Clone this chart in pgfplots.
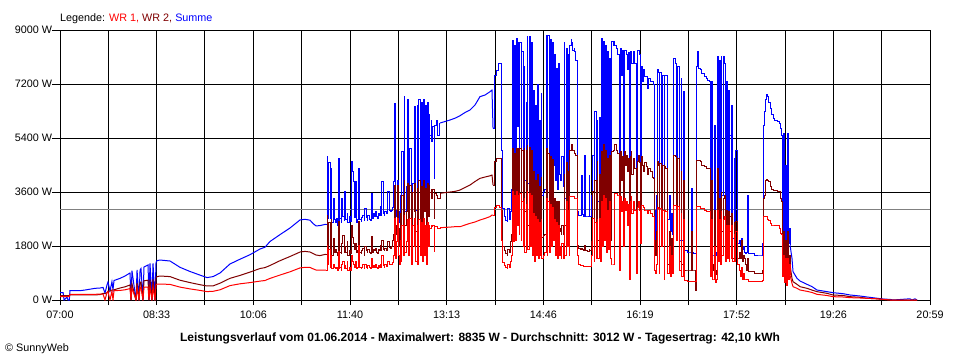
\documentclass[border=0pt]{standalone}
\usepackage{pgfplots}
\usepackage{pgfplotstable}
\pgfplotsset{compat=1.18}
\usepackage{fontspec}
\setmainfont{Liberation Sans}
\definecolor{wrone}{RGB}{255,0,0}
\definecolor{wrtwo}{RGB}{128,0,0}
\definecolor{summe}{RGB}{0,0,255}
\definecolor{avg}{RGB}{128,128,128}
% t = minutes after 07:00, power in W
\pgfplotstableread{
t wr1 wr2 sum
0.0 111 144 244
3.0 111 144 244
3.9 111 144 0
6.8 111 144 100
7.7 111 144 0
9.0 111 144 0
9.6 189 167 311
19.3 189 167 311
24.1 189 167 333
33.8 189 170 389
38.6 200 180 400
41.5 200 220 420
43.4 0 220 230
45.3 250 240 500
46.3 280 300 600
48.2 0 300 300
50.1 300 330 611
51.1 0 330 340
52.1 311 340 650
57.9 320 400 722
62.7 340 440 800
67.5 380 500 900
68.5 0 0 0
69.4 400 540 978
73.3 0 0 0
74.3 420 560 1000
76.2 0 0 0
77.2 420 580 1000
78.1 420 600 1050
80.0 0 0 0
81.0 430 640 1100
84.9 430 660 1166
85.8 0 0 0
86.8 440 680 1222
88.7 0 0 0
89.7 440 690 1222
91.6 0 0 0
92.6 500 740 1250
93.5 533 778 1311
96.4 533 800 1333
106.1 520 780 1300
115.7 430 660 1090
125.4 370 580 950
135.0 320 510 830
141.8 280 467 747
147.6 290 470 780
154.3 340 560 900
163.9 480 722 1200
173.6 540 820 1360
183.2 580 930 1510
192.9 630 1050 1700
197.7 650 1080 1760
202.5 720 1150 1950
212.2 833 1311 2180
221.8 940 1450 2400
231.5 1070 1600 2670
236.3 1089 1620 2690
241.1 1085 1600 2660
244.0 1040 1550 2550
246.9 1000 1500 2470
250.7 1000 1480 2480
255.6 1000 1520 2520
256.5 1000 1520 2522
257.5 1833 2833 4778
258.4 1167 1700 2720
259.4 1700 2600 4600
260.4 1100 1600 2720
261.4 1500 2700 4390
262.3 1050 1500 2600
263.3 1200 2055 3390
264.3 1100 1600 2700
265.2 1050 1700 2600
266.2 1100 1600 2720
267.2 1000 1500 2500
268.1 1611 2610 4720
269.1 1050 1500 2610
270.0 1100 1600 2720
271.0 1000 1550 2600
271.9 1200 1900 3390
272.9 1300 2160 2800
273.9 1050 1600 2650
274.8 1150 1800 3610
275.8 1050 1600 2700
276.8 1300 1944 2900
277.7 1000 1500 2600
278.7 1100 1650 2800
279.7 1000 1550 2610
280.7 1500 2500 4610
281.6 1300 2100 4300
282.6 1200 1900 3950
283.6 1100 1700 2750
284.5 1300 1900 3944
285.5 1050 1600 2600
286.5 1100 1650 2700
287.4 1833 2610 4390
288.4 1400 2200 4100
289.3 1100 1600 2700
290.3 1050 1550 2610
291.2 1100 1650 2750
292.2 1170 1720 2830
293.2 1050 1500 2650
294.1 1200 1800 3055
295.1 1100 1650 2750
296.1 1050 1600 2650
297.0 1150 1700 2830
298.0 1100 1600 2700
299.0 1050 1550 2650
300.0 1400 2110 3555
300.9 1100 1600 2720
301.9 1150 1700 2900
302.9 1100 1650 2800
303.8 1170 1720 2944
304.8 1100 1600 2800
305.8 1050 1550 2720
306.7 1150 1700 2900
307.7 1100 1650 2830
308.6 1200 1833 3110
309.6 1100 1650 2830
310.5 1500 2000 3944
311.5 1150 1700 2900
312.5 1100 1650 2830
313.4 1170 1720 2944
314.4 1120 1650 2900
315.4 1150 1700 2880
316.3 1300 1944 3610
317.3 1200 1750 3000
318.3 1170 1722 2944
319.3 1200 1800 3000
320.2 1250 2000 3100
321.2 1500 2200 3944
322.2 2720 3833 6555
323.1 1400 2200 3000
324.1 1944 2500 2800
325.1 2720 3833 3990
326.0 1500 2400 2944
327.0 1170 1800 2600
327.9 2000 2900 3500
328.9 1300 2055 2800
329.8 2500 3500 4944
330.8 1500 2300 2500
331.8 2830 4000 6780
332.7 1600 2500 2940
333.7 1944 2944 3800
334.7 2700 3900 6670
335.6 1500 2400 2500
336.6 2200 3300 4000
337.5 2720 3833 5055
338.5 1300 2600 2900
339.4 1200 2055 2060
340.4 2500 3600 3900
341.4 1800 2944 3200
342.3 2720 3900 6440
343.3 1300 2300 3000
344.3 2500 3720 6500
345.2 1170 2100 3200
346.2 2700 4000 6670
347.2 1500 2500 3610
348.2 2600 3800 6600
349.1 1300 2200 2500
350.1 2720 4000 6670
351.1 1500 2944 3400
352.0 2500 3720 6500
353.0 1200 2055 3000
354.0 2600 3900 6600
354.9 1800 2800 3610
355.9 2500 3833 6170
356.8 2400 3600 5500
357.8 2500 3700 6000
358.7 2450 3390 5280
359.7 2500 3700 5800
360.7 1611 2720 4055
361.6 2444 3555 5830
362.6 2440 3500 6000
363.6 2420 3450 5900
364.5 2400 3400 5500
365.5 2390 3390 5900
366.5 2410 3555 5900
371.3 2420 3580 5950
376.1 2430 3600 6000
380.9 2444 3620 6060
385.8 2444 3666 6144
390.6 2500 3750 6250
395.4 2555 3833 6333
400.2 2600 3950 6500
405.0 2666 4055 6778
409.9 2720 4100 6833
414.7 2780 4140 6944
416.6 2833 4166 7000
417.6 2833 3833 5722
418.6 3100 4610 7500
420.5 3150 4720 7667
422.4 3166 4720 7890
424.3 3100 4720 7890
425.3 3080 4650 7800
426.2 2000 3000 5000
427.2 1250 1800 3050
428.2 1150 1650 2800
430.1 1100 1550 2650
431.1 1055 1500 2611
432.0 1200 1700 3055
433.0 1100 1600 2700
434.0 1280 1944 2944
435.0 1500 2200 3700
435.9 3611 5050 8667
436.9 1944 2800 4700
437.9 3500 4900 8500
438.8 2000 2500 3900
439.8 3611 5050 8720
440.8 2500 3300 5800
441.7 3500 5050 8600
442.7 2200 3000 4700
443.6 3550 5055 8600
444.6 2000 2944 4800
445.5 3300 5000 8280
446.5 1800 2900 4200
447.5 3400 5055 7780
448.4 1600 2944 4000
449.4 3200 5000 6600
450.4 3611 5166 8780
451.3 1700 2500 3900
452.3 3555 5100 8780
453.3 1800 2700 4100
454.3 3500 5000 8600
455.2 1500 2300 3800
456.2 2900 4300 7000
457.2 1300 2100 3600
458.1 2800 4000 6500
459.1 1500 2500 3900
460.1 2700 4200 7200
461.0 1400 2200 3700
462.0 2600 3800 6000
462.9 1500 2300 3800
463.9 2700 4100 6900
464.8 1400 2100 3500
465.8 1500 2166 3611
467.7 1600 2200 3700
468.7 3400 5050 8830
469.7 1500 2400 3900
470.6 3300 4900 8830
471.6 1600 2300 3900
472.6 3200 4800 8700
473.6 1800 2600 4400
474.5 3100 4700 8600
475.5 2000 2500 4500
476.5 2700 3400 8170
477.4 1500 2300 4000
478.4 2600 3300 7720
479.4 1400 2166 3700
480.3 2500 3300 7900
481.3 1500 2300 4200
482.2 1800 2400 4000
483.2 1400 2200 4500
484.1 1900 2500 4800
485.1 1400 2200 3800
486.1 3000 4200 8600
487.0 1500 2500 3400
488.0 3300 4600 8400
489.0 1800 2800 3600
489.9 3000 4300 8170
490.9 1500 2300 3300
491.8 3444 5000 8500
492.8 3444 5100 8670
493.7 3444 5170 8600
494.7 3444 5000 8330
495.7 3444 4940 8400
496.6 3400 4900 8280
497.6 3400 4830 8000
498.6 3350 4830 7830
499.5 1500 1833 2944
500.5 1200 1722 2833
501.5 1150 1700 2833
502.5 1150 1722 4166
503.4 1150 1700 2850
504.4 1130 1650 2800
505.4 1130 1833 4833
506.3 1110 1650 2800
508.3 1120 1620 2800
509.2 1110 1611 2780
510.2 1130 1700 4166
511.1 1110 1650 2800
512.1 1200 1700 2950
513.0 1500 1944 3500
514.0 2720 3610 4833
515.0 1300 1900 3200
515.9 2600 4000 6300
516.9 1400 2055 3500
517.9 2700 4610 6000
518.8 1390 2000 3300
519.8 2720 4200 6100
520.8 1300 1944 3400
521.8 3300 4940 8720
522.7 1800 2600 4600
523.7 3500 5170 8610
524.7 2000 2900 4800
525.6 3400 5000 8500
526.6 1600 2500 3900
527.6 3000 4720 8280
528.5 1700 2700 4500
529.5 3300 4830 8055
530.4 1400 2300 3500
531.4 1167 2000 3000
532.3 1167 4940 8610
533.3 1167 5000 8500
534.3 1200 5170 8610
535.2 3555 5170 8500
536.2 3555 5000 8400
537.2 3500 4944 8300
538.1 3500 4900 8200
539.1 1000 1500 2500
540.1 3444 4940 8390
541.1 2944 4000 7500
542.0 3300 4800 8330
543.0 1800 2500 2944
544.0 3400 4940 8330
544.9 3000 4500 8330
545.9 3300 4830 8200
546.9 2500 4300 7700
547.8 3200 4720 8250
548.8 700 700 1400
549.7 3300 4800 8300
550.7 3444 4940 8170
551.6 2900 4200 7900
552.6 3300 4720 8300
553.6 3200 4610 8000
554.5 3000 4400 7900
555.5 900 944 1800
556.5 3100 4610 8330
557.4 3300 4830 8330
558.4 3000 4600 8200
559.4 1900 2500 2944
560.4 3166 4780 7800
561.3 3166 4500 7300
562.3 3100 4280 7700
563.3 3000 4600 7440
565.2 3000 4450 7440
566.2 2900 4200 7050
567.1 3000 4400 7400
569.0 2900 4300 7280
570.9 2800 4100 7280
571.9 2778 4055 7200
572.9 1000 2000 3000
573.8 900 1500 1500
574.8 1200 2300 3500
575.8 3078 4610 7670
576.7 3050 4500 7600
577.7 900 1500 1400
578.6 3050 4550 7600
579.6 3000 4440 7550
580.5 1800 3000 3600
581.5 3000 4500 7500
582.5 700 1500 1500
583.4 3000 4440 7500
584.4 2950 4400 7500
585.4 1500 2000 3200
586.3 900 1200 2700
587.3 1800 2300 3500
588.3 800 1300 2300
589.3 1500 2055 2900
590.2 900 1400 2200
591.2 3166 4830 8050
593.1 3140 4780 7900
594.1 2000 3000 4700
595.1 3111 4720 7800
597.0 3111 4720 7610
597.9 1000 1300 2000
598.9 2900 4300 7390
599.8 800 1200 2000
600.8 2700 4000 6944
601.8 700 1100 1700
602.7 650 1000 1666
605.6 630 1000 1600
607.6 630 1000 1600
608.6 630 2277 3722
609.5 620 1000 1580
610.5 611 1000 1555
611.5 611 1000 1555
612.4 611 333 1555
613.4 3111 4666 7800
614.4 3111 4666 8280
615.3 3111 4666 7720
617.2 3060 4610 7700
619.1 3050 4500 7560
621.1 3000 4440 7450
623.0 2960 4390 7390
624.9 2944 4390 7330
625.9 2944 4390 7300
626.9 800 1300 1500
627.9 2700 4000 7270
628.8 700 1200 1500
629.8 700 1000 1500
630.8 1800 3000 5833
631.7 600 850 1500
632.7 700 1000 1600
633.7 3000 4400 8110
634.6 1300 2200 3000
635.6 2700 3390 8000
636.5 1200 1944 2500
637.5 2944 3600 8110
638.4 1500 2300 3500
639.4 2700 3390 8110
640.4 2800 3500 7900
641.3 1300 2000 2600
642.3 2500 3000 7300
643.3 1400 2300 2277
644.2 2500 2944 7000
645.2 1300 1390 2100
646.1 2300 2800 5500
647.1 1400 1500 2277
648.0 2500 2900 6500
649.0 1300 1400 2055
650.0 2200 2600 4720
650.9 1300 1400 2100
651.9 2300 2611 5000
652.9 1400 1500 2055
653.8 1200 1390 1900
654.8 1000 1600 2000
655.8 800 1400 1833
656.8 1100 2000 2055
657.7 700 1300 1700
658.7 900 1500 1800
659.7 700 1390 1600
660.6 700 1200 1550
661.6 667 1000 1600
662.6 700 1400 3500
663.5 611 944 1555
670.2 611 889 1500
676.1 620 900 1500
677.0 650 1000 1900
678.0 2778 3390 5833
679.0 2778 3500 6300
679.9 2778 4000 6700
680.9 2778 4030 6855
681.9 2700 4000 6800
682.8 2650 3950 6600
684.7 2555 3780 6390
686.6 2500 3700 6170
687.6 2500 3666 6055
689.5 2470 3650 6000
691.5 2470 3630 5944
693.4 2380 3611 5900
694.4 2222 3390 5720
695.4 2200 3280 5500
696.3 800 1200 1944
697.3 1500 2277 5555
698.3 600 800 1390
699.2 1400 2000 4500
700.2 500 700 1000
701.2 1390 2277 5555
702.1 700 1000 1900
703.1 1200 1500 2390
704.0 833 1167 1833
705.9 556 722 1390
706.9 444 611 944
710.8 389 520 720
713.7 333 444 633
720.4 289 389 522
725.3 250 330 444
730.0 189 278 333
739.7 150 222 278
745.5 111 167 244
755.1 100 150 211
761.9 78 111 167
771.5 67 90 133
778.3 56 56 100
786.0 44 44 67
793.7 22 22 33
800.5 0 0 20
803.3 0 0 0
819.7 0 0 40
821.6 0 0 0
824.5 0 0 40
826.5 0 0 0
}\datatable
\pgfplotsset{
  smoothpart/.style={sharp plot, line width=1pt},
  spikypart/.style={const plot, line width=1pt},
}
\begin{document}
\begin{tikzpicture}
\useasboundingbox (0,0) rectangle (960pt,360pt);
\fill[white] (0,0) rectangle (960pt,360pt);
\begin{axis}[
  at={(60pt,60pt)}, anchor=south west,
  scale only axis, width=870pt, height=270pt,
  xmin=0, xmax=839, ymin=0, ymax=9000,
  axis line style={black, line width=1pt},
  xtick={0,93.22,186.44,279.67,372.89,466.11,559.33,652.56,745.78,839},
  xticklabels={07:00,08:33,10:06,11:40,13:13,14:46,16:19,17:52,19:26,20:59},
  minor xtick={46.61,139.83,233.06,326.28,419.5,512.72,605.94,699.17,792.39},
  ytick={0,1800,3600,5400,7200,9000},
  yticklabels={0 W,1800 W,3600 W,5400 W,7200 W,9000 W},
  xtick pos=bottom, ytick pos=left,
  tick align=outside,
  xtick style={black, line width=1pt, /pgfplots/major tick length=5pt, /pgfplots/minor tick length=5pt},
  ytick style={black, line width=1pt, /pgfplots/major tick length=8pt},
  grid=both,
  major grid style={black, line width=1pt},
  minor grid style={black, line width=1pt},
  every tick label/.append style={font=\fontsize{10.8}{12}\selectfont, text=black},
  xticklabel style={yshift=-3pt},
  /pgf/number format/assume math mode=true,
  clip=true,
]
\addplot[avg, line width=1pt, forget plot] coordinates {(0,3012) (839,3012)};
% Summe
\addplot[summe, smoothpart, restrict x to domain=0:256.5] table[x=t, y=sum] {\datatable};
\addplot[summe, spikypart, restrict x to domain=256.5:366.5] table[x=t, y=sum] {\datatable};
\addplot[summe, smoothpart, restrict x to domain=366.5:417.6] table[x=t, y=sum] {\datatable};
\addplot[summe, spikypart, restrict x to domain=417.6:704.0] table[x=t, y=sum] {\datatable};
\addplot[summe, smoothpart, restrict x to domain=704.0:839] table[x=t, y=sum] {\datatable};
% WR 2
\addplot[wrtwo, smoothpart, restrict x to domain=0:256.5] table[x=t, y=wr2] {\datatable};
\addplot[wrtwo, spikypart, restrict x to domain=256.5:366.5] table[x=t, y=wr2] {\datatable};
\addplot[wrtwo, smoothpart, restrict x to domain=366.5:417.6] table[x=t, y=wr2] {\datatable};
\addplot[wrtwo, spikypart, restrict x to domain=417.6:704.0] table[x=t, y=wr2] {\datatable};
\addplot[wrtwo, smoothpart, restrict x to domain=704.0:839] table[x=t, y=wr2] {\datatable};
% WR 1
\addplot[wrone, smoothpart, restrict x to domain=0:256.5] table[x=t, y=wr1] {\datatable};
\addplot[wrone, spikypart, restrict x to domain=256.5:366.5] table[x=t, y=wr1] {\datatable};
\addplot[wrone, smoothpart, restrict x to domain=366.5:417.6] table[x=t, y=wr1] {\datatable};
\addplot[wrone, spikypart, restrict x to domain=417.6:704.0] table[x=t, y=wr1] {\datatable};
\addplot[wrone, smoothpart, restrict x to domain=704.0:839] table[x=t, y=wr1] {\datatable};
\end{axis}
\node[anchor=base west, inner sep=0pt, font=\fontsize{10.8}{12}\selectfont] at (60pt,339pt)
  {Legende: \textcolor{wrone}{WR 1,} \textcolor{wrtwo}{WR 2,} \textcolor{summe}{Summe}};
\node[anchor=base, inner sep=0pt, font=\fontsize{12}{14}\selectfont\bfseries] at (480pt,19pt)
  {Leistungsverlauf vom 01.06.2014 - Maximalwert: 8835 W - Durchschnitt: 3012 W - Tagesertrag: 42,10 kWh};
\node[anchor=base west, inner sep=0pt, font=\fontsize{10.8}{12}\selectfont] at (5pt,9pt)
  {© SunnyWeb};
\end{tikzpicture}
\end{document}
